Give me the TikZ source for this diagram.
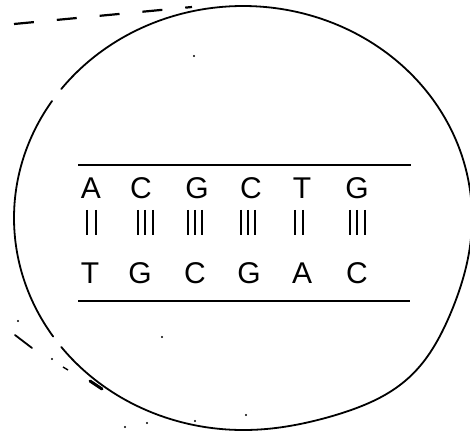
\documentclass[tikz,border=0pt]{standalone}
\usepackage{fontspec}
\setmainfont{Liberation Sans}
\begin{document}
\begin{tikzpicture}[x=1pt,y=-1pt,
  declare function={bump(\t)=1+0.045*(max(0,cos(\t-313)))^20;
                    ex(\t)=243+229*bump(\t)*cos(\t);
                    ey(\t)=218-212*bump(\t)*sin(\t);},
  base/.style={anchor=base,inner sep=0pt,font=\fontsize{30}{30}\selectfont},
  strand/.style={line width=1.6pt},
  rim/.style={line width=1.8pt,line cap=round,line join=round},
  bond/.style={line width=1.8pt},
  speck/.style={fill=black}]
\useasboundingbox (0,0) rectangle (470,435);
\clip (0,0) rectangle (470,435);
% outer circle (hand drawn, with two small gaps)
\draw[rim] plot[domain=146.5:214,samples=40,smooth] ({ex(\x)},{ey(\x)});
\draw[rim] plot[domain=217.5:502.5,samples=140,smooth] ({ex(\x)},{ey(\x)});
% dashed stroke at top left
\coordinate (d1) at (14,24);
\coordinate (d2) at (192,7);
\draw[line width=2.2pt,dash pattern=on 20pt off 23pt] (d1) -- (d2);
% specks
\coordinate (s1) at (15,335);
\coordinate (s2) at (32,348);
\draw[line width=1.8pt,line cap=round] (s1) -- (s2);
\coordinate (s3) at (90,381);
\coordinate (s4) at (102,389);
\draw[line width=3pt,line cap=round] (s3) -- (s4);
\coordinate (s5) at (63,367);
\coordinate (s6) at (68,370);
\draw[line width=1.4pt] (s5) -- (s6);
\foreach \p in {(18,321),(52,359),(125,427),(147,423),(195,421),(246,415),(194,56),(162,337)}
  \fill[speck] \p circle (1.2pt);
% strands
\coordinate (t1) at (78,165);
\coordinate (t2) at (411,165);
\coordinate (b1) at (78,301);
\coordinate (b2) at (410,301);
\draw[strand] (t1) -- (t2);
\draw[strand] (b1) -- (b2);
% top strand letters
\node[base] (u1) at (91,199) {A};
\node[base] (u2) at (141,199) {C};
\node[base] (u3) at (197,199) {G};
\node[base] (u4) at (251,199) {C};
\node[base] (u5) at (302,199) {T};
\node[base] (u6) at (357,199) {G};
% bottom strand letters
\node[base] (l1) at (90,283) {T};
\node[base] (l2) at (140,283) {G};
\node[base] (l3) at (195,283) {C};
\node[base] (l4) at (249,283) {G};
\node[base] (l5) at (302,283) {A};
\node[base] (l6) at (357,283) {C};
% hydrogen bonds
\foreach \x in {87,96, 138,145,153, 188,195,202, 241,248,255, 295,303, 350,357,365}
  \draw[bond] (\x,210) -- (\x,235);
\end{tikzpicture}
\end{document}
